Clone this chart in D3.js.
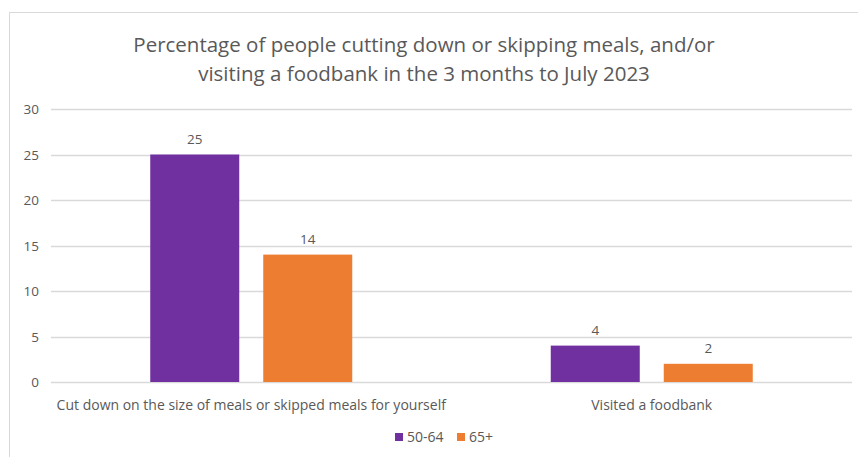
<!DOCTYPE html>
<html>
<head>
<meta charset="utf-8">
<script src="https://cdn.jsdelivr.net/npm/d3@7"></script>
<style>
  body { margin: 0; background: #fff; }
  svg text { font-family: "Open Sans", "Liberation Sans", sans-serif; fill: #595959; }
</style>
</head>
<body>
<svg id="chart" width="858" height="457"></svg>
<script>
const categories = ["Cut down on the size of meals or skipped meals for yourself", "Visited a foodbank"];
const seriesNames = ["50-64", "65+"];
const values5064 = [25, 4];
const values65 = [14, 2];
const yTicks = [0, 5, 10, 15, 20, 25, 30];
const titleLines = ["Percentage of people cutting down or skipping meals, and/or", "visiting a foodbank in the 3 months to July 2023"];
const colors = ["#7030A0", "#ED7D31"];

const svg = d3.select("#chart");

// outer chart border
svg.append("rect")
  .attr("x", 9.5).attr("y", 12.5)
  .attr("width", 900).attr("height", 500)
  .attr("fill", "none").attr("stroke", "#D9D9D9");

const margin = { left: 51, right: 852, top: 109, bottom: 382 };

const x0 = d3.scaleBand().domain(categories).range([margin.left, margin.right]);
const y = d3.scaleLinear().domain([0, 30]).range([margin.bottom, margin.top]);

// gridlines
svg.append("g").selectAll("line").data(yTicks).join("line")
  .attr("x1", margin.left).attr("x2", margin.right)
  .attr("y1", d => Math.round(y(d)) + 0.5).attr("y2", d => Math.round(y(d)) + 0.5)
  .attr("stroke", "#D9D9D9").attr("stroke-width", 1.3);

// y tick labels
svg.append("g").selectAll("text").data(yTicks).join("text")
  .attr("x", 39).attr("y", d => y(d) + 5)
  .attr("text-anchor", "end").attr("font-size", 13.5)
  .text(d => d);

const data = categories.map((c, i) => ({ cat: c, vals: [values5064[i], values65[i]] }));

const bw = 89, gap = 24;
const groups = svg.append("g").selectAll("g").data(data).join("g");

groups.each(function(d) {
  const cx = x0(d.cat) + x0.bandwidth() / 2;
  const g = d3.select(this);
  d.vals.forEach((v, j) => {
    const bx = j === 0 ? cx - gap / 2 - bw : cx + gap / 2;
    g.append("rect")
      .attr("x", bx).attr("y", y(v))
      .attr("width", bw).attr("height", y(0) - y(v))
      .attr("fill", colors[j]);
    g.append("text")
      .attr("x", bx + bw / 2).attr("y", y(v) - 11)
      .attr("text-anchor", "middle").attr("font-size", 13.5)
      .text(v);
  });
  g.append("text")
    .attr("x", cx).attr("y", 410)
    .attr("text-anchor", "middle").attr("font-size", 14)
    .text(d.cat);
});

// title
svg.append("g").selectAll("text").data(titleLines).join("text")
  .attr("x", 424).attr("y", (d, i) => 52 + i * 29)
  .attr("text-anchor", "middle").attr("font-size", 20.5)
  .text(d => d);

// legend
const legend = svg.append("g");
const legendX = [395, 457];
seriesNames.forEach((s, i) => {
  legend.append("rect")
    .attr("x", legendX[i]).attr("y", 433)
    .attr("width", 8).attr("height", 8)
    .attr("fill", colors[i]);
  legend.append("text")
    .attr("x", legendX[i] + 12).attr("y", 442)
    .attr("font-size", 14)
    .text(s);
});
</script>
</body>
</html>
